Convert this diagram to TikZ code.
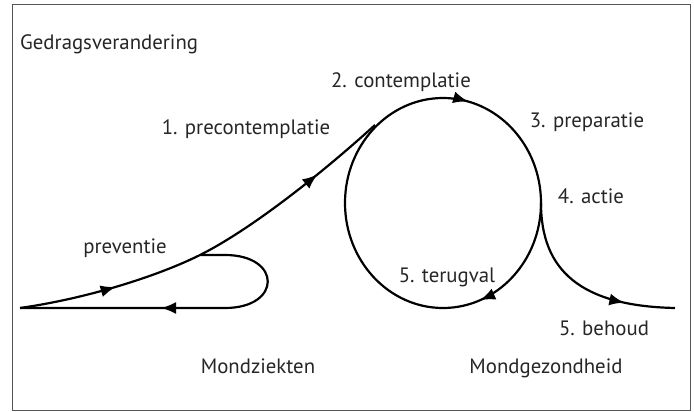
\documentclass[tikz,border=0pt]{standalone}
\usepackage{fontspec}
\setmainfont{PT Sans}
\usepackage{xcolor}
\definecolor{cText}{HTML}{262626}
\definecolor{cFrame}{HTML}{555555}
\usetikzlibrary{arrows.meta,decorations.markings}
\tikzset{
  frame-box/.style={draw=cFrame,line width=0.8pt},
  curve-main/.style={draw=black,line width=2.2pt},
  label-text/.style={anchor=base,inner sep=0pt,text=cText,
    font=\fontsize{20.8}{25}\selectfont},
  % pijlpunten midden op de lijn
  mark-one/.style={postaction={decorate},decoration={markings,
    mark=at position #1 with {\arrow{Latex[length=15pt,width=12pt]}}}},
  mark-two/.style 2 args={postaction={decorate},decoration={markings,
    mark=at position #1 with {\arrow{Latex[length=15pt,width=12pt]}},
    mark=at position #2 with {\arrow{Latex[length=15pt,width=12pt]}}}},
}

\begin{document}
\begin{tikzpicture}[x=1pt,y=-1pt]
  \useasboundingbox (0,0) rectangle (694,412);
  \draw[frame-box] (12,4) rectangle (690,410);

  \coordinate (start) at (20,308);
  \coordinate (split) at (200,255);
  \coordinate (entry) at (375,125);
  \coordinate (center) at (443,203);
  \coordinate (cusp) at (541,203);
  \coordinate (finish) at (675,308);
  \coordinate (loop-top) at (225,255);
  \coordinate (loop-bot) at (225,308);

  \draw[curve-main,mark-two={98pt}{-76pt}] (start)
    .. controls (90,298) and (160,275) .. (split)
    .. controls (250,230) and (320,175) .. (entry);
  \draw[curve-main,mark-two={0.19}{0.79}] (center) ellipse [x radius=98,y radius=105];
  \draw[curve-main,mark-one={-51pt}] (cusp)
    .. controls (541,270) and (580,306) .. (finish);
  \draw[curve-main,mark-one={-141pt}] (split) -- (loop-top)
    .. controls (282,255) and (282,308) .. (loop-bot) -- (start);

  \node[label-text,anchor=base west] (title) at (20,50) {Gedragsverandering};
  \node[label-text] (stage-pre) at (246,135) {1. precontemplatie};
  \node[label-text] (stage-con) at (401,88) {2. contemplatie};
  \node[label-text] (stage-prep) at (587,128) {3. preparatie};
  \node[label-text] (stage-act) at (591,203) {4. actie};
  \node[label-text] (prevent) at (125,253) {preventie};
  \node[label-text] (relapse) at (447,282) {5. terugval};
  \node[label-text] (maintain) at (604,335) {5. behoud};
  \node[label-text] (disease) at (258,373) {Mondziekten};
  \node[label-text] (health) at (546,373) {Mondgezondheid};
\end{tikzpicture}
\end{document}
